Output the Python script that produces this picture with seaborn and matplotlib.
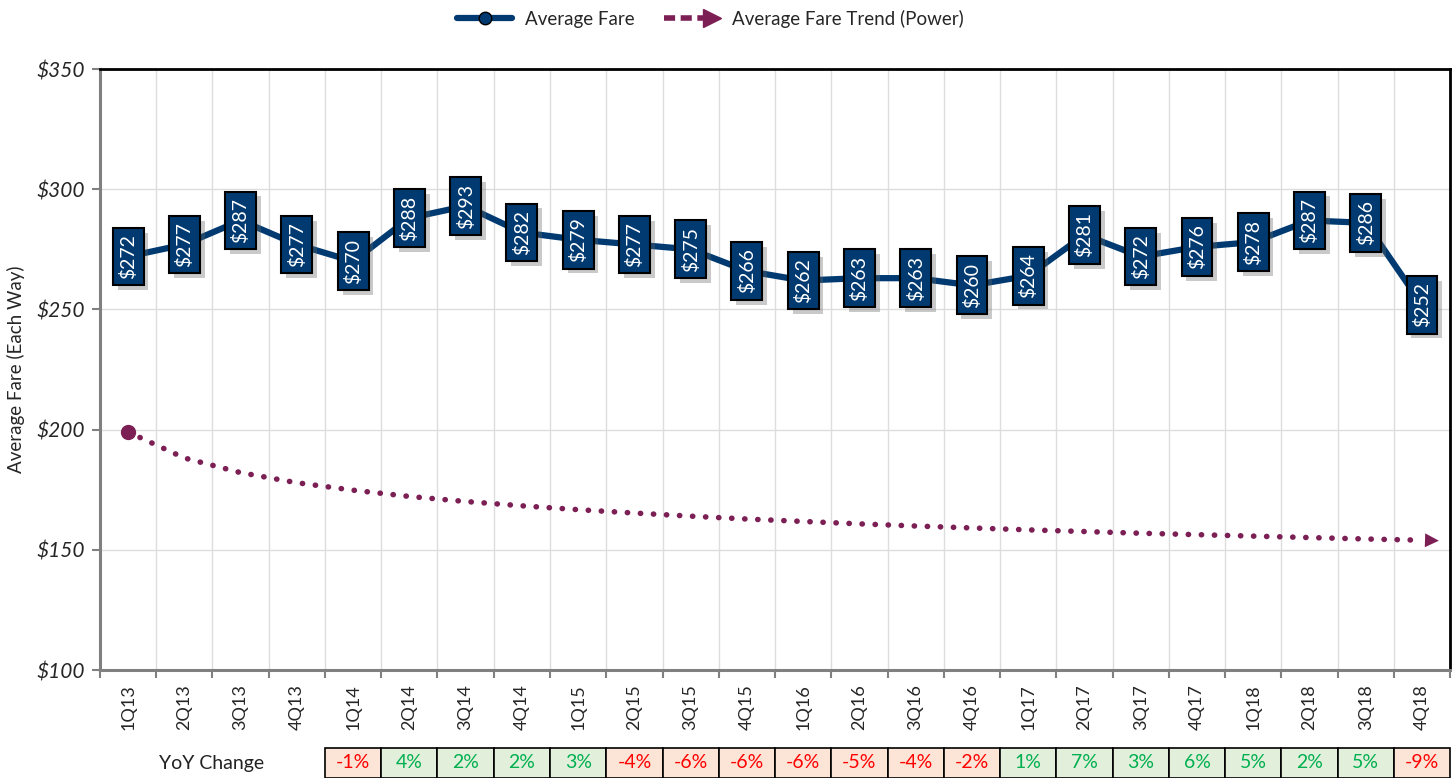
import matplotlib
matplotlib.use('Agg')
import matplotlib.pyplot as plt
import matplotlib.patheffects as pe
import matplotlib.transforms as mtransforms
from matplotlib.lines import Line2D
from matplotlib.patches import Rectangle
from matplotlib.legend_handler import HandlerBase
import seaborn as sns
import pandas as pd

# Data
quarters = ['1Q13', '2Q13', '3Q13', '4Q13', '1Q14', '2Q14', '3Q14', '4Q14',
            '1Q15', '2Q15', '3Q15', '4Q15', '1Q16', '2Q16', '3Q16', '4Q16',
            '1Q17', '2Q17', '3Q17', '4Q17', '1Q18', '2Q18', '3Q18', '4Q18']
avg_fare = [272, 277, 287, 277, 270, 288, 293, 282, 279, 277, 275, 266,
            262, 263, 263, 260, 264, 281, 272, 276, 278, 287, 286, 252]
trend = [199.0, 188.2, 182.1, 177.9, 174.8, 172.2, 170.1, 168.3, 166.7, 165.3,
         164.0, 162.8, 161.8, 160.8, 159.9, 159.1, 158.3, 157.6, 156.9, 156.3,
         155.7, 155.1, 154.5, 154.0]
yoy_quarters = quarters[4:]
yoy_change = [-1, 4, 2, 2, 3, -4, -6, -6, -6, -5, -4, -2, 1, 7, 3, 6, 5, 2, 5, -9]

NAVY = '#003a70'
PLUM = '#7b1f55'

df = pd.DataFrame({'pos': range(len(quarters)), 'quarter': quarters,
                   'fare': avg_fare, 'trend': trend})

sns.set_style('white')
plt.rcParams['font.family'] = ['Lato', 'DejaVu Sans']

fig = plt.figure(figsize=(14.53, 7.78), dpi=100)
ax = fig.add_axes([0.0688, 0.1388, 0.9292, 0.7725])

# Average fare line
sns.lineplot(data=df, x='pos', y='fare', ax=ax, color=NAVY, linewidth=4.5,
             zorder=3, legend=False)

# Power trend (dotted with start dot and end arrow)
sns.lineplot(data=df, x='pos', y='trend', ax=ax, color=PLUM, linewidth=4,
             zorder=2, legend=False, linestyle=(0, (0.05, 2.3)),
             dash_capstyle='round')
ax.plot(df['pos'].iloc[0], df['trend'].iloc[0], 'o', color=PLUM, ms=10, zorder=2)
ax.annotate('', xy=(df['pos'].iloc[-1] + 0.35, df['trend'].iloc[-1] - 0.25),
            xytext=(df['pos'].iloc[-1], df['trend'].iloc[-1]),
            arrowprops=dict(arrowstyle='-|>,head_length=1.0,head_width=0.5',
                            color=PLUM, lw=0), zorder=2)

# Data label boxes
for p, v in zip(df['pos'], df['fare']):
    t = ax.text(p, v, f'${v}', rotation=90, ha='center', va='center',
                color='white', fontsize=14, zorder=5,
                bbox=dict(boxstyle='square,pad=0.33', fc=NAVY, ec='black', lw=1.5))
    t.get_bbox_patch().set_path_effects(
        [pe.SimplePatchShadow(offset=(3.5, -3.5), shadow_rgbFace='#666666', alpha=0.35),
         pe.Normal()])

# Axes styling
ax.set_xlim(-0.5, len(quarters) - 0.5)
ax.set_ylim(100, 350)
ax.set_yticks([100, 150, 200, 250, 300, 350])
ax.set_yticklabels([f'${v}' for v in [100, 150, 200, 250, 300, 350]],
                   fontsize=15, style='italic')
ax.set_xticks([i - 0.5 for i in range(len(quarters) + 1)])
ax.set_xticklabels([])
ax.set_xticks(range(len(quarters)), minor=True)
ax.set_xticklabels(quarters, minor=True, rotation=90, fontsize=13)
ax.tick_params(axis='x', which='major', length=6, width=1.5, color='#808080',
               direction='out', bottom=True)
ax.tick_params(axis='x', which='minor', length=0, pad=10)
ax.tick_params(axis='y', length=6, width=1.5, color='#808080', direction='out',
               left=True, pad=5)
ax.grid(True, which='major', color='#dddddd', linewidth=1)
ax.set_xlabel('')
ax.set_ylabel('Average Fare (Each Way)', fontsize=13.5, labelpad=8)

for side in ['left', 'bottom']:
    ax.spines[side].set_color('#808080')
    ax.spines[side].set_linewidth(2.2)
for side in ['top', 'right']:
    ax.spines[side].set_color('black')
    ax.spines[side].set_linewidth(2)


# Legend
class ArrowHandler(HandlerBase):
    def create_artists(self, legend, orig, xd, yd, w, h, fs, trans):
        y = yd + h / 2
        line = Line2D([xd, xd + w * 0.72], [y, y], color=PLUM, lw=4,
                      linestyle=(0, (2, 1)))
        tip = Line2D([xd + w * 0.88], [y], marker='>', color=PLUM, ms=13, lw=0)
        line.set_transform(trans)
        tip.set_transform(trans)
        return [line, tip]


h_fare = Line2D([], [], color=NAVY, lw=4.5, marker='o', ms=9, mfc=NAVY, mec='black')
h_trend = Line2D([], [])
fig.legend([h_fare, h_trend], ['Average Fare', 'Average Fare Trend (Power)'],
           handler_map={h_trend: ArrowHandler()}, loc='center',
           bbox_to_anchor=(0.489, 0.976), ncol=2, frameon=False, fontsize=13.5,
           handlelength=2.9, columnspacing=1.6, handletextpad=0.7)

# YoY change table below the chart
blend = mtransforms.blended_transform_factory(ax.transData, fig.transFigure)
cell_bottom = 0.0
cell_h = 30 / 778
cell_mid = cell_bottom + cell_h / 2
fig.text(212 / 1453, cell_mid, 'YoY Change', ha='center', va='center', fontsize=14,
         color='#222222')
for q, c in zip(yoy_quarters, yoy_change):
    p = quarters.index(q)
    neg = c < 0
    fig.add_artist(Rectangle((p - 0.5, cell_bottom), 1, cell_h, transform=blend,
                             facecolor='#fce4d6' if neg else '#e2efda',
                             edgecolor='black', lw=1.2, clip_on=False))
    fig.text(p, cell_mid, f'{c}%', transform=blend, ha='center', va='center',
             fontsize=14, color='#ff0000' if neg else '#00b050')

fig.savefig('out.png', dpi=100)
